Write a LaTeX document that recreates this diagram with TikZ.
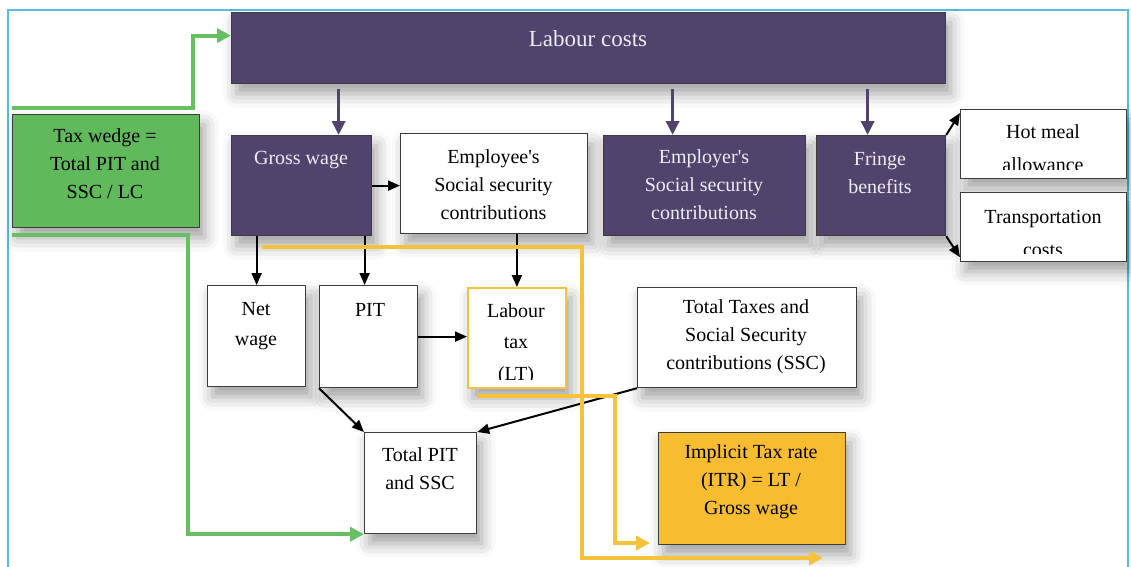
\documentclass[tikz,border=0pt]{standalone}
\usepackage{fontspec}
\setmainfont{Liberation Serif}
\usetikzlibrary{arrows.meta,shadows.blur}

\definecolor{lcpurple}{RGB}{80,68,108}
\definecolor{wedgegreen}{RGB}{96,186,92}
\definecolor{linegreen}{RGB}{104,190,98}
\definecolor{itrgold}{RGB}{247,188,48}
\definecolor{lineyellow}{RGB}{246,194,60}
\definecolor{framecyan}{RGB}{86,190,228}
\definecolor{edgegrey}{RGB}{60,60,60}
\definecolor{paletext}{RGB}{238,236,244}

\tikzset{
  box/.style={draw=edgegrey, line width=1.2pt, anchor=north west, inner sep=0pt,
    blur shadow={shadow xshift=5pt, shadow yshift=-10pt, shadow blur radius=14pt, shadow opacity=38}},
  pbox/.style={box, fill=lcpurple},
  wbox/.style={box, fill=white},
  txt/.style={font=\fontsize{20}{28}\selectfont, align=center, inner sep=0pt, anchor=center},
  ptxt/.style={txt, text=paletext},
  parrow/.style={draw=lcpurple, line width=3.4pt, -{Triangle[length=14pt,width=13pt]}},
  karrow/.style={draw=black, line width=2pt, -{Triangle[length=12pt,width=10pt]}},
  garrow/.style={draw=linegreen, line width=4pt, -{Triangle[length=14pt,width=14pt]}},
  yarrow/.style={draw=lineyellow, line width=4pt, -{Triangle[length=14pt,width=14pt]}},
}

\begin{document}
\begin{tikzpicture}[x=1pt,y=-1pt]
\useasboundingbox (0,0) rectangle (1131,566);

% open cyan frame around the chart
\draw[framecyan, line width=2.6pt] (8,572) -- (8,10) -- (1128,10) -- (1128,572);

% boxes
\node[pbox, minimum width=714pt, minimum height=71pt] (lc) at (231,12) {};
\node[box, fill=wedgegreen, minimum width=187pt, minimum height=113pt] (tw) at (12,114) {};
\node[pbox, minimum width=140pt, minimum height=100pt] (gw) at (231,135) {};
\node[wbox, minimum width=187pt, minimum height=100pt] (ee) at (400,133) {};
\node[pbox, minimum width=202pt, minimum height=100pt] (er) at (603,135) {};
\node[pbox, minimum width=129pt, minimum height=100pt] (fb) at (816,135) {};
\node[wbox, minimum width=166pt, minimum height=69pt] (hm) at (960,109) {};
\node[wbox, minimum width=166pt, minimum height=69pt] (tc) at (960,192) {};
\node[wbox, minimum width=98pt, minimum height=101pt] (nw) at (207,285) {};
\node[wbox, minimum width=98pt, minimum height=102pt] (pit) at (319,285) {};
\node[box, fill=white, draw=lineyellow, line width=1.8pt, minimum width=98pt, minimum height=100pt] (lt) at (467,287) {};
\node[wbox, minimum width=219pt, minimum height=100pt] (tt) at (637,287) {};
\node[wbox, minimum width=112pt, minimum height=101pt] (tp) at (364,432) {};
\node[box, fill=itrgold, minimum width=187pt, minimum height=112pt] (itr) at (658,432) {};

% box texts
\node[ptxt, font=\fontsize{23}{28}\selectfont] (lct) at (588,39) {Labour costs};
\node[txt] (twt) at (105,164) {Tax wedge =\\Total PIT and\\SSC / LC};
\node[ptxt] (gwt) at (301,160) {Gross wage};
\node[txt] (eet) at (493.5,184.5) {Employee\textquotesingle s\\Social security\\contributions};
\node[ptxt] (ert) at (704,185) {Employer\textquotesingle s\\Social security\\contributions};
\node[ptxt] (fbt) at (880,173) {Fringe\\benefits};
\begin{scope}
  \clip (hm.north west) rectangle ([yshift=10pt]hm.south east);
  \node[txt, font=\fontsize{20}{33}\selectfont] (hmt) at (1043,148) {Hot meal\\allowance};
\end{scope}
\begin{scope}
  \clip (tc.north west) rectangle ([yshift=9pt]tc.south east);
  \node[txt, font=\fontsize{20}{33}\selectfont] (tct) at (1043,233) {Transportation\\costs};
\end{scope}
\node[txt, font=\fontsize{20}{30}\selectfont] (nwt) at (256,326) {Net\\wage};
\node[txt] (pitt) at (370,310) {PIT};
\begin{scope}
  \clip (lt.north west) rectangle ([yshift=9pt]lt.south east);
  \node[txt, font=\fontsize{20}{31.5}\selectfont] (ltt) at (516,344) {Labour\\tax\\(LT)};
\end{scope}
\node[txt] (ttt) at (746,337) {Total Taxes and\\Social Security\\contributions (SSC)};
\node[txt] (tpt) at (420,468.5) {Total PIT\\and SSC};
\node[txt] (itrt) at (751,482) {Implicit Tax rate\\(ITR) = LT /\\Gross wage};

% entry points of the purple arrows
\coordinate (gwin) at ([xshift=37pt]gw.north);
\coordinate (erin) at ([xshift=-32pt]er.north);
\coordinate (fbin) at ([xshift=-13.5pt]fb.north);
\coordinate (pitin) at ([xshift=-4pt]pit.north);

% labour costs split
\draw[parrow, shorten <=5pt] (gwin |- lc.south) -- (gwin);
\draw[parrow, shorten <=5pt] (erin |- lc.south) -- (erin);
\draw[parrow, shorten <=5pt] (fbin |- lc.south) -- (fbin);

% black connectors
\draw[karrow] (gw.east) -- (gw.east -| ee.west);
\draw[karrow] (nw.north |- gw.south) -- (nw.north);
\draw[karrow] (pitin |- gw.south) -- (pitin);
\draw[karrow] (lt.north |- ee.south) -- (lt.north);
\draw[karrow] (pit.east) -- (pit.east -| lt.west);
\draw[karrow] (pit.south west) -- (tp.north west);
\draw[karrow] (tt.south west) -- (tp.north east);
\draw[karrow] (fb.north east) -- ([yshift=-4pt]hm.north west);
\draw[karrow] (fb.south east) -- ([yshift=5pt]tc.south west);

% green tax wedge routes
\coordinate (gup) at (12,108);
\coordinate (gdown) at (12,235);
\draw[garrow] (gup) -- (193,108) |- ([yshift=12.5pt]lc.west);
\draw[garrow] (gdown) -- (188,235) |- (tp.south west);

% yellow implicit tax rate routes
\coordinate (ya) at (262,247);
\coordinate (yaend) at (823,558);
\coordinate (yb) at (477,396);
\coordinate (ybend) at (650,543);
\draw[yarrow] (ya) -- (582,247) |- (yaend);
\draw[yarrow] (yb) -- (615,396) |- (ybend);
\end{tikzpicture}
\end{document}
